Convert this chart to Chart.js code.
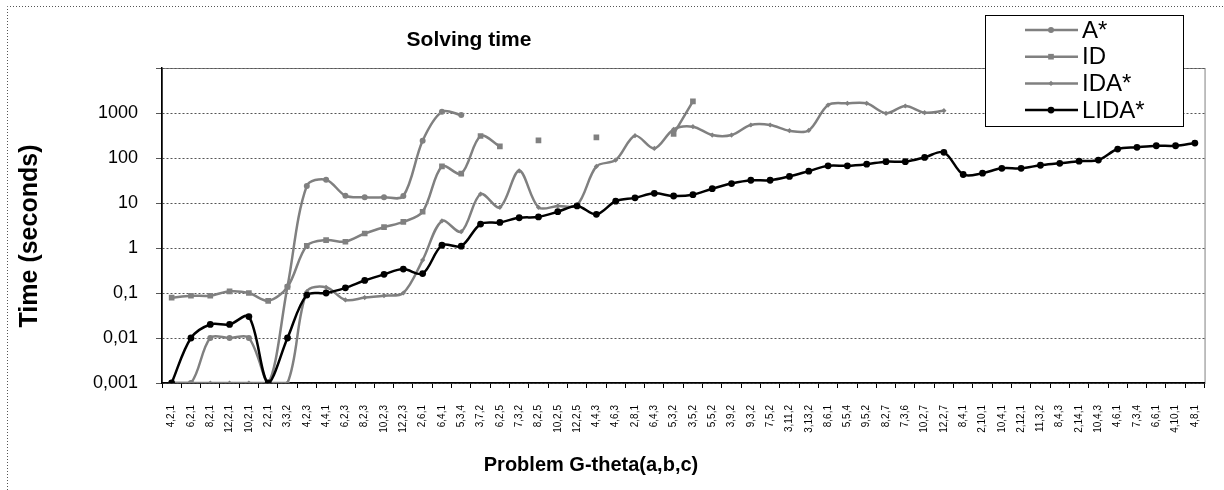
<!DOCTYPE html>
<html>
<head>
<meta charset="utf-8">
<script src="https://cdn.jsdelivr.net/npm/chart.js@4.4.1/dist/chart.umd.min.js"></script>
<style>
  html, body { margin: 0; padding: 0; background: #fff; }
  #wrap { width: 1224px; height: 490px; }
</style>
</head>
<body>
<div id="wrap"><canvas id="myChart" width="1224" height="490"></canvas></div>
<script>
// problems G-theta(a,b,c), in the order of the x axis
const problemy = ["4,2,1", "6,2,1", "8,2,1", "12,2,1", "10,2,1", "2,2,1", "3,3,2", "4,2,3", "4,4,1", "6,2,3",
    "8,2,3", "10,2,3", "12,2,3", "2,6,1", "6,4,1", "5,3,4", "3,7,2", "6,2,5", "7,3,2", "8,2,5",
    "10,2,5", "12,2,5", "4,4,3", "4,6,3", "2,8,1", "6,4,3", "5,3,2", "3,5,2", "5,5,2", "3,9,2",
    "9,3,2", "7,5,2", "3,11,2", "3,13,2", "8,6,1", "5,5,4", "9,5,2", "8,2,7", "7,3,6", "10,2,7",
    "12,2,7", "8,4,1", "2,10,1", "10,4,1", "2,12,1", "11,3,2", "8,4,3", "2,14,1", "10,4,3", "4,6,1",
    "7,3,4", "6,6,1", "4,10,1", "4,8,1"];

// solving times in seconds (null = not solved)
const czas_astar = [0.001, 0.001, 0.01, 0.01, 0.01, 0.001, 0.14, 24, 33, 14.5, 13.4, 13.4, 14.3, 243, 1070, 900];
const czas_id = [0.079, 0.087, 0.087, 0.109, 0.1, 0.067, 0.136, 1.12, 1.5, 1.38, 2.1, 2.9, 3.8, 6.4, 65, 45, 308, 182,
    null, 247, null, null, 288, null, null, null, 345, 1820];
const czas_ida = [0.001, 0.001, 0.001, 0.001, 0.001, 0.001, 0.001, 0.107, 0.134, 0.07, 0.079, 0.087, 0.1, 0.54,
    4.0, 2.3, 15.8, 8.0, 52, 8.0, 8.6, 9.0, 65, 90, 313, 163, 433, 497, 324, 324, 541, 541, 404, 410, 1500,
    1640, 1640, 985, 1430, 1015, 1125];
const czas_lida = [0.001, 0.01, 0.02, 0.02, 0.03, 0.001, 0.01, 0.09, 0.1, 0.13, 0.19, 0.26, 0.34, 0.27, 1.15, 1.1,
    3.4, 3.7, 4.7, 4.9, 6.4, 8.6, 5.6, 11, 13, 16.4, 14.3, 15.3, 20.8, 27, 32, 32, 39, 51, 67, 67, 73, 83, 83,
    103, 134, 43, 46, 59, 59, 69, 76, 85, 90, 158, 173, 187, 187, 215];

const y_ticki = [0.001, 0.01, 0.1, 1, 10, 100, 1000, 10000];

const SZARY = "#808080";
const FONT = "Arial, 'Liberation Sans', sans-serif";

function rysuj_znacznik(ctx, styl, r, x, y, kolor) {
    ctx.save();
    ctx.fillStyle = kolor;
    ctx.beginPath();
    if (styl == "circle") {
        ctx.arc(x, y, r, 0, Math.PI * 2);
    } else if (styl == "rect") {
        var s = Math.SQRT1_2 * r;
        ctx.rect(x - s, y - s, 2 * s, 2 * s);
    } else {
        ctx.moveTo(x, y - r);
        ctx.lineTo(x + r, y);
        ctx.lineTo(x, y + r);
        ctx.lineTo(x - r, y);
        ctx.closePath();
    }
    ctx.fill();
    ctx.restore();
}

const tlo = {
    id: "tlo",
    beforeDraw(chart) {
        const ctx = chart.ctx;
        const a = chart.chartArea;
        ctx.save();
        ctx.fillStyle = "#fff";
        ctx.fillRect(0, 0, chart.width, chart.height);
        // outer dotted frame
        ctx.strokeStyle = "#555";
        ctx.lineWidth = 1;
        ctx.setLineDash([1, 2]);
        ctx.beginPath();
        ctx.moveTo(7.5, chart.height);
        ctx.lineTo(7.5, 6.5);
        ctx.lineTo(chart.width, 6.5);
        ctx.stroke();
        ctx.setLineDash([]);
        // plot area frame
        ctx.strokeStyle = SZARY;
        ctx.strokeRect(a.left + 0.5, a.top + 0.5, a.right - a.left, a.bottom - a.top);
        ctx.restore();
    },
    afterDraw(chart) {
        const ctx = chart.ctx;
        ctx.save();
        ctx.fillStyle = "#000";
        ctx.textAlign = "center";
        ctx.textBaseline = "middle";
        ctx.font = "bold 21px " + FONT;
        ctx.fillText("Solving time", 469, 40);
        ctx.font = "bold 20px " + FONT;
        ctx.fillText("Problem G-theta(a,b,c)", 591, 465);
        ctx.save();
        ctx.translate(30, 236);
        ctx.rotate(-Math.PI / 2);
        ctx.font = "bold 25px " + FONT;
        ctx.fillText("Time (seconds)", 0, 0);
        ctx.restore();

        // legend
        ctx.fillStyle = "#fff";
        ctx.fillRect(985, 15, 198, 111);
        ctx.strokeStyle = "#000";
        ctx.lineWidth = 1;
        ctx.strokeRect(985.5, 15.5, 198, 111);
        const ds = chart.data.datasets;
        for (var i = 0; i < ds.length; i++) {
            var y = 30 + i * 26.7;
            ctx.strokeStyle = ds[i].borderColor;
            ctx.lineWidth = ds[i].borderWidth;
            ctx.beginPath();
            ctx.moveTo(1025, y);
            ctx.lineTo(1078, y);
            ctx.stroke();
            rysuj_znacznik(ctx, ds[i].pointStyle, ds[i].pointRadius, 1051, y, ds[i].borderColor);
            ctx.fillStyle = "#000";
            ctx.textAlign = "left";
            ctx.font = "24px " + FONT;
            ctx.fillText(ds[i].label, 1082, y + 1);
        }
        ctx.restore();
    }
};

function seria(nazwa, dane, kolor, znacznik, promien, kolejnosc) {
    return {
        label: nazwa,
        data: dane,
        borderColor: kolor,
        backgroundColor: kolor,
        borderWidth: 2.5,
        pointStyle: znacznik,
        pointRadius: promien,
        pointBorderWidth: 0,
        pointBackgroundColor: kolor,
        tension: 0.33,
        spanGaps: false,
        order: kolejnosc
    };
}

const CHART = document.getElementById("myChart");
let wykres = new Chart(CHART, {
    type: "line",
    data: {
        labels: problemy,
        datasets: [
            seria("A*", czas_astar, SZARY, "circle", 3, 4),
            seria("ID", czas_id, SZARY, "rect", 4, 3),
            seria("IDA*", czas_ida, SZARY, "rectRot", 2.6, 2),
            seria("LIDA*", czas_lida, "#000", "circle", 3.4, 1)
        ]
    },
    options: {
        responsive: false,
        animation: false,
        layout: { padding: { left: 0, top: 68, right: 12, bottom: 0 } },
        plugins: {
            legend: { display: false },
            title: { display: false },
            tooltip: { enabled: false }
        },
        scales: {
            x: {
                type: "category",
                offset: true,
                afterFit: function (s) { s.height = 107; },
                grid: {
                    offset: true,
                    drawOnChartArea: false,
                    drawTicks: true,
                    tickLength: 5,
                    color: "#000",
                    tickColor: "#000"
                },
                border: { display: true, color: "#000", width: 1.5 },
                ticks: {
                    autoSkip: false,
                    maxRotation: 90,
                    minRotation: 90,
                    padding: 17,
                    color: "#000",
                    font: { family: FONT, size: 10 }
                }
            },
            y: {
                type: "logarithmic",
                min: 0.001,
                max: 10000,
                afterFit: function (s) { s.width = 162; },
                afterBuildTicks: function (s) {
                    s.ticks = y_ticki.map(function (v) { return { value: v }; });
                },
                grid: {
                    color: "#555",
                    tickColor: "#555",
                    tickLength: 6,
                    lineWidth: 1
                },
                border: { display: true, color: "#000", width: 1.5, dash: [2, 2] },
                ticks: {
                    padding: 18,
                    color: "#000",
                    font: { family: FONT, size: 18 },
                    callback: function (v) {
                        if (v >= 10000) return "";
                        return String(v).replace(".", ",");
                    }
                }
            }
        }
    },
    plugins: [tlo]
});
</script>
</body>
</html>
